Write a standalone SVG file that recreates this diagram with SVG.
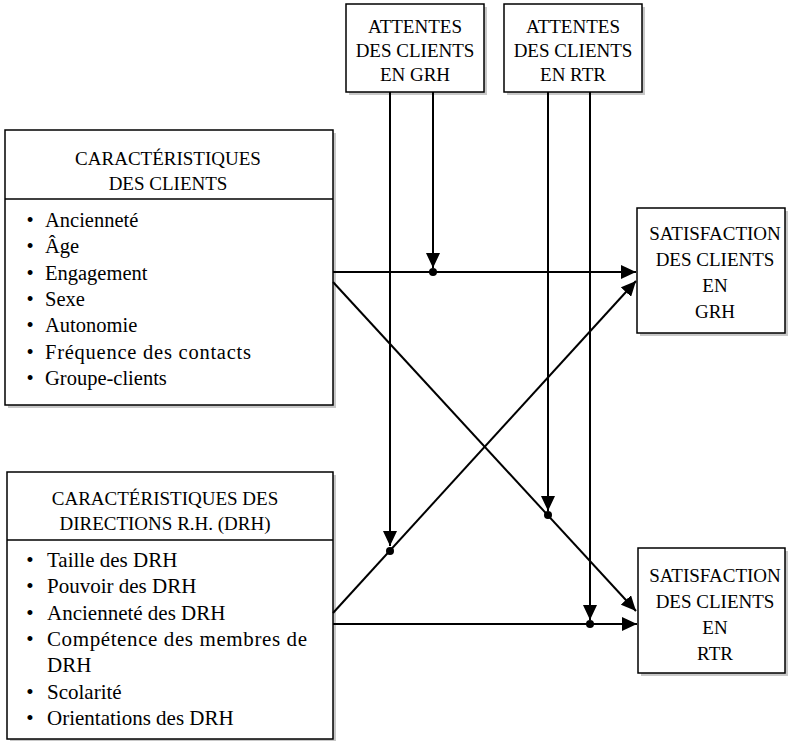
<svg xmlns="http://www.w3.org/2000/svg" width="789" height="741" viewBox="0 0 789 741">
<style>
.box{fill:#fff;stroke:#000;stroke-width:1.5}
.sh{fill:#c8c8c8}
.t{font-family:"Liberation Serif","Times New Roman",serif;fill:#000}
.h{font-size:19px;text-anchor:middle}
.b{font-size:20.5px}
.b2{font-size:21px}
.bul{text-anchor:middle}
.c{stroke:#000;stroke-width:2;fill:none}
</style>
<defs>
<marker id="ah" markerUnits="userSpaceOnUse" markerWidth="16" markerHeight="14" refX="15" refY="7" orient="auto">
<path d="M0,0 L15,7 L0,14 z" fill="#000"/>
</marker>
</defs>
<rect width="789" height="741" fill="#fff"/>

<g id="attentes-grh">
<rect class="sh" x="349" y="7" width="138" height="88"/>
<rect class="box" x="346" y="4" width="138" height="88"/>
<text class="t h" x="415" y="33">ATTENTES</text>
<text class="t h" x="415" y="57">DES CLIENTS</text>
<text class="t h" x="415" y="81">EN GRH</text>
</g>

<g id="attentes-rtr">
<rect class="sh" x="507" y="7" width="138" height="88"/>
<rect class="box" x="504" y="4" width="138" height="88"/>
<text class="t h" x="573" y="33">ATTENTES</text>
<text class="t h" x="573" y="57">DES CLIENTS</text>
<text class="t h" x="573" y="81">EN RTR</text>
</g>

<g id="carac-clients">
<rect class="sh" x="8" y="133" width="328" height="275"/>
<rect class="box" x="5" y="130" width="328" height="275"/>
<line x1="5" y1="199" x2="333" y2="199" stroke="#000" stroke-width="1.5"/>
<text class="t h" x="168" y="165">CARACTÉRISTIQUES</text>
<text class="t h" x="168" y="190">DES CLIENTS</text>
<g class="t b">
<text class="bul" x="30" y="227">•</text><text x="45" y="227">Ancienneté</text>
<text class="bul" x="30" y="253">•</text><text x="45" y="253">Âge</text>
<text class="bul" x="30" y="280">•</text><text x="45" y="280">Engagement</text>
<text class="bul" x="30" y="306">•</text><text x="45" y="306">Sexe</text>
<text class="bul" x="30" y="332">•</text><text x="45" y="332">Autonomie</text>
<text class="bul" x="30" y="359">•</text><text x="45" y="359" textLength="206" lengthAdjust="spacing">Fréquence des contacts</text>
<text class="bul" x="30" y="385">•</text><text x="45" y="385">Groupe-clients</text>
</g>
</g>

<g id="carac-drh">
<rect class="sh" x="10" y="475" width="326" height="266"/>
<rect class="box" x="7" y="472" width="326" height="267"/>
<line x1="7" y1="540" x2="333" y2="540" stroke="#000" stroke-width="1.5"/>
<text class="t h" x="165" y="505">CARACTÉRISTIQUES DES</text>
<text class="t h" x="165" y="530">DIRECTIONS R.H. (DRH)</text>
<g class="t b2">
<text class="bul" x="30" y="567">•</text><text x="47" y="567">Taille des DRH</text>
<text class="bul" x="30" y="593">•</text><text x="47" y="593">Pouvoir des DRH</text>
<text class="bul" x="30" y="620">•</text><text x="47" y="620">Ancienneté des DRH</text>
<text class="bul" x="30" y="646">•</text><text x="47" y="646" textLength="260" lengthAdjust="spacing">Compétence des membres de</text>
<text x="47" y="672">DRH</text>
<text class="bul" x="30" y="699">•</text><text x="47" y="699">Scolarité</text>
<text class="bul" x="30" y="725">•</text><text x="47" y="725">Orientations des DRH</text>
</g>
</g>

<g id="satisfaction-grh">
<rect class="sh" x="640" y="211" width="148" height="125"/>
<rect class="box" x="637" y="208" width="148" height="125"/>
<text class="t h" x="715" y="240">SATISFACTION</text>
<text class="t h" x="715" y="266">DES CLIENTS</text>
<text class="t h" x="715" y="292">EN</text>
<text class="t h" x="715" y="318">GRH</text>
</g>

<g id="satisfaction-rtr">
<rect class="sh" x="641" y="551" width="147" height="125"/>
<rect class="box" x="638" y="548" width="147" height="125"/>
<text class="t h" x="715" y="582">SATISFACTION</text>
<text class="t h" x="715" y="608">DES CLIENTS</text>
<text class="t h" x="715" y="634">EN</text>
<text class="t h" x="715" y="660">RTR</text>
</g>

<g id="connectors">
<line class="c" x1="333" y1="272" x2="636" y2="272" marker-end="url(#ah)"/>
<line class="c" x1="333" y1="282" x2="636" y2="611" marker-end="url(#ah)"/>
<line class="c" x1="333" y1="613" x2="636" y2="281" marker-end="url(#ah)"/>
<line class="c" x1="333" y1="624" x2="637" y2="624" marker-end="url(#ah)"/>
<line class="c" x1="390" y1="92" x2="390" y2="546" marker-end="url(#ah)"/>
<line class="c" x1="433" y1="92" x2="433" y2="268" marker-end="url(#ah)"/>
<line class="c" x1="548" y1="92" x2="548" y2="511" marker-end="url(#ah)"/>
<line class="c" x1="590" y1="92" x2="590" y2="620" marker-end="url(#ah)"/>
<circle cx="390" cy="551" r="4"/>
<circle cx="433" cy="272" r="4"/>
<circle cx="548" cy="515" r="4"/>
<circle cx="590" cy="624" r="4"/>
</g>
</svg>
